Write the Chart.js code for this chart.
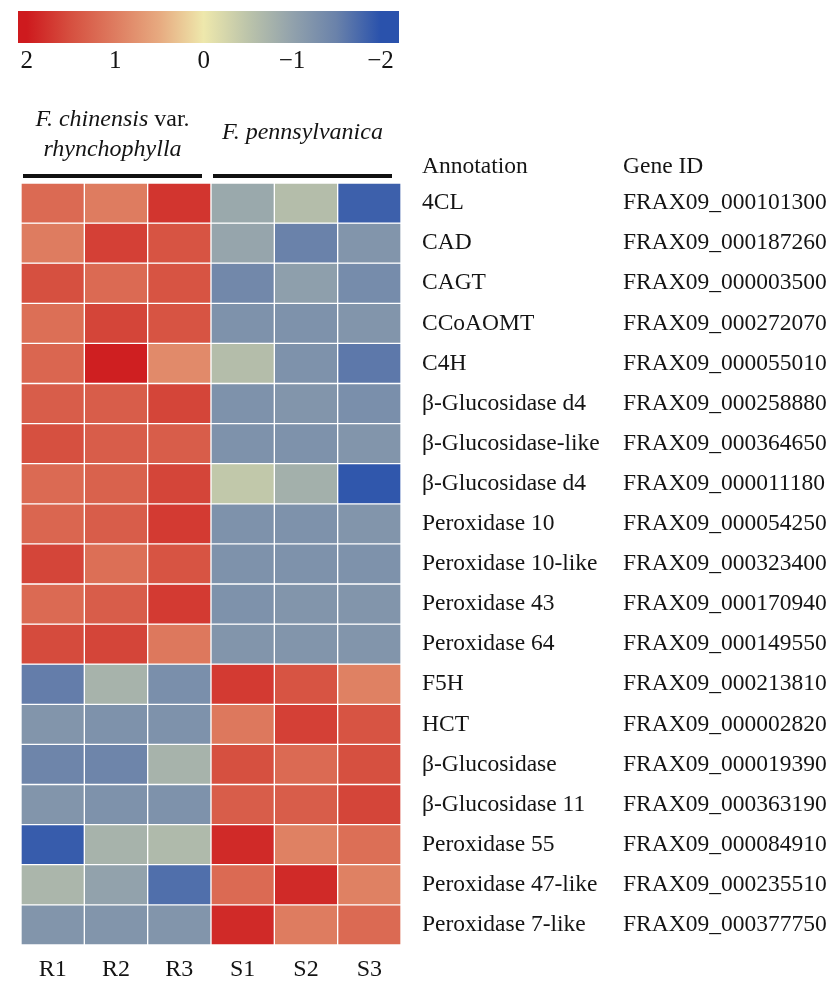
<!DOCTYPE html>
<html>
<head>
<meta charset="utf-8">
<script src="https://cdn.jsdelivr.net/npm/chart.js@4.4.1/dist/chart.umd.min.js"></script>
<style>
    html, body { margin: 0; padding: 0; background: #fff; }
    #wrap { position: relative; width: 829px; height: 981px; }
    canvas { position: absolute; left: 0; top: 0; }
</style>
</head>
<body>
<div id="wrap">
    <canvas id="heat" width="829" height="981"></canvas>
    <canvas id="scalebar" width="420" height="80"></canvas>
</div>
<script>
// samples (columns) and genes (rows)
const samples = ['R1', 'R2', 'R3', 'S1', 'S2', 'S3'];
const annotations = [
    '4CL', 'CAD', 'CAGT', 'CCoAOMT', 'C4H', 'β-Glucosidase d4', 'β-Glucosidase-like',
    'β-Glucosidase d4', 'Peroxidase 10', 'Peroxidase 10-like', 'Peroxidase 43', 'Peroxidase 64',
    'F5H', 'HCT', 'β-Glucosidase', 'β-Glucosidase 11', 'Peroxidase 55', 'Peroxidase 47-like',
    'Peroxidase 7-like'
];
const geneIds = [
    'FRAX09_000101300', 'FRAX09_000187260', 'FRAX09_000003500', 'FRAX09_000272070',
    'FRAX09_000055010', 'FRAX09_000258880', 'FRAX09_000364650', 'FRAX09_000011180',
    'FRAX09_000054250', 'FRAX09_000323400', 'FRAX09_000170940', 'FRAX09_000149550',
    'FRAX09_000213810', 'FRAX09_000002820', 'FRAX09_000019390', 'FRAX09_000363190',
    'FRAX09_000084910', 'FRAX09_000235510', 'FRAX09_000377750'
];

// z-scores per sample, one value per gene (top to bottom)
const R1 = [1.2, 1.0, 1.5, 1.15, 1.25, 1.35, 1.5, 1.2, 1.25, 1.6, 1.2, 1.55, -1.55, -1.2, -1.45, -1.2, -1.9, -0.7, -1.2];
const R2 = [1.0, 1.65, 1.2, 1.6, 1.95, 1.35, 1.35, 1.3, 1.35, 1.15, 1.35, 1.6, -0.75, -1.25, -1.45, -1.25, -0.75, -1.0, -1.2];
const R3 = [1.75, 1.45, 1.45, 1.45, 0.85, 1.6, 1.35, 1.6, 1.7, 1.45, 1.7, 1.05, -1.3, -1.25, -0.75, -1.25, -0.65, -1.7, -1.2];
const S1 = [-0.9, -0.95, -1.4, -1.25, -0.6, -1.25, -1.25, -0.45, -1.25, -1.25, -1.25, -1.2, 1.7, 1.05, 1.5, 1.35, 1.85, 1.2, 1.85];
const S2 = [-0.6, -1.5, -1.05, -1.25, -1.25, -1.2, -1.25, -0.8, -1.25, -1.25, -1.2, -1.2, 1.45, 1.65, 1.2, 1.35, 0.95, 1.85, 1.0];
const S3 = [-1.85, -1.2, -1.35, -1.2, -1.6, -1.3, -1.2, -1.95, -1.2, -1.25, -1.2, -1.2, 0.95, 1.45, 1.5, 1.6, 1.15, 0.95, 1.2];
const columns = [R1, R2, R3, S1, S2, S3];

// colour scale ticks
const scaleTicks = [2, 1, 0, -1, -2];

// colour map (value -> rgb)
const cmapValues = [2, 1.5, 1, 0.5, 0, -0.5, -1, -1.5, -2];
const cmapColors = [
    [206, 26, 30], [214, 80, 64], [222, 124, 96], [231, 170, 128], [238, 232, 172],
    [188, 196, 170], [146, 162, 172], [106, 130, 170], [42, 82, 172]
];

function colorFor(v) {
    v = Math.max(-2, Math.min(2, v));
    for (let i = 0; i < cmapValues.length - 1; i++) {
        const a = cmapValues[i], b = cmapValues[i + 1];
        if (v <= a && v >= b) {
            const t = (a - v) / (a - b);
            const c = cmapColors[i].map((x, k) => Math.round(x + (cmapColors[i + 1][k] - x) * t));
            return `rgb(${c[0]},${c[1]},${c[2]})`;
        }
    }
    return 'rgb(238,232,172)';
}

const SERIF = '"Liberation Serif", "Times New Roman", serif';
const TEXT = '#141414';
const labelFont = { family: SERIF, size: 23.5 };

// heatmap: one floating-bar dataset per gene row
const datasets = annotations.map((name, i) => ({
    label: name,
    data: samples.map(() => [i, i + 1]),
    backgroundColor: columns.map(col => colorFor(col[i])),
    borderColor: '#ffffff',
    borderWidth: 1,
    borderSkipped: false,
    grouped: false,
    categoryPercentage: 1,
    barPercentage: 1
}));

const headerPlugin = {
    id: 'headers',
    afterDraw(chart) {
        const ctx = chart.ctx;
        const a = chart.scales.yAnno, g = chart.scales.yGene, x = chart.scales.x;
        ctx.save();
        ctx.fillStyle = TEXT;
        ctx.textBaseline = 'alphabetic';
        ctx.font = `23.5px ${SERIF}`;
        ctx.fillText('Annotation', a.left + 21, 173);
        ctx.fillText('Gene ID', g.left + 22, 173);

        // group bars over R and S samples
        const band = x.width / samples.length;
        const groups = [
            { first: 0, last: 2, lines: [[['F. chinensis', true], [' var.', false]], [['rhynchophylla', true]]], y: [120, 150] },
            { first: 3, last: 5, lines: [[['F. pennsylvanica', true]]], y: [133] }
        ];
        groups.forEach(gr => {
            const x0 = x.left + gr.first * band + 2;
            const x1 = x.left + (gr.last + 1) * band - 9;
            ctx.strokeStyle = '#111';
            ctx.lineWidth = 4;
            ctx.beginPath();
            ctx.moveTo(x0, 176);
            ctx.lineTo(x1, 176);
            ctx.stroke();

            const cx = (x0 + x1) / 2;
            ctx.textBaseline = 'middle';
            gr.lines.forEach((parts, li) => {
                const widths = parts.map(([t, it]) => {
                    ctx.font = `${it ? 'italic ' : ''}24px ${SERIF}`;
                    return ctx.measureText(t).width;
                });
                let px = cx - widths.reduce((s, w) => s + w, 0) / 2;
                parts.forEach(([t, it], k) => {
                    ctx.font = `${it ? 'italic ' : ''}24px ${SERIF}`;
                    ctx.fillText(t, px, gr.y[li]);
                    px += widths[k];
                });
            });
        });
        ctx.restore();
    }
};

new Chart(document.getElementById('heat'), {
    type: 'bar',
    data: { labels: samples, datasets },
    options: {
        responsive: false,
        animation: false,
        events: [],
        layout: { padding: { left: 21, top: 183, right: 0, bottom: 0 } },
        plugins: { legend: { display: false }, tooltip: { enabled: false } },
        scales: {
            x: {
                type: 'category',
                grid: { display: false, drawTicks: false },
                border: { display: false },
                ticks: { font: { family: SERIF, size: 24 }, color: TEXT, padding: 10 },
                afterFit(s) { s.height = 33; }
            },
            y: { type: 'linear', min: 0, max: 19, reverse: true, display: false },
            yAnno: {
                type: 'category',
                labels: annotations,
                position: 'right',
                offset: true,
                weight: 1,
                grid: { display: false, drawTicks: false },
                border: { display: false },
                ticks: { font: labelFont, color: TEXT, padding: 21, autoSkip: false },
                afterFit(s) { s.width = 200; }
            },
            yGene: {
                type: 'category',
                labels: geneIds,
                position: 'right',
                offset: true,
                weight: 2,
                grid: { display: false, drawTicks: false },
                border: { display: false },
                ticks: { font: labelFont, color: TEXT, padding: 22, autoSkip: false },
                afterFit(s) { s.width = 228; }
            }
        }
    },
    plugins: [headerPlugin]
});

// colour key
const gradientPlugin = {
    id: 'gradient',
    beforeDraw(chart) {
        const { ctx, chartArea: ca } = chart;
        const x = chart.scales.x;
        const grad = ctx.createLinearGradient(ca.left, 0, ca.right, 0);
        cmapValues.forEach(v => {
            const off = (x.getPixelForValue(v) - ca.left) / (ca.right - ca.left);
            grad.addColorStop(Math.max(0, Math.min(1, off)), colorFor(v));
        });
        ctx.save();
        ctx.fillStyle = grad;
        ctx.fillRect(ca.left, ca.top, ca.right - ca.left, ca.bottom - ca.top);
        ctx.restore();
    }
};

new Chart(document.getElementById('scalebar'), {
    type: 'scatter',
    data: { datasets: [] },
    options: {
        responsive: false,
        animation: false,
        events: [],
        layout: { padding: { left: 18, right: 21, top: 11, bottom: 0 } },
        plugins: { legend: { display: false }, tooltip: { enabled: false } },
        scales: {
            x: {
                type: 'linear',
                min: -2.21,
                max: 2.1,
                reverse: true,
                grid: { display: false, drawTicks: false },
                border: { display: false },
                ticks: {
                    font: { family: SERIF, size: 25 },
                    color: TEXT,
                    padding: 3,
                    callback: v => String(v).replace('-', '−')
                },
                afterBuildTicks(s) { s.ticks = scaleTicks.map(v => ({ value: v })); },
                afterFit(s) { s.height = 37; }
            },
            y: { display: false }
        }
    },
    plugins: [gradientPlugin]
});
</script>
</body>
</html>
